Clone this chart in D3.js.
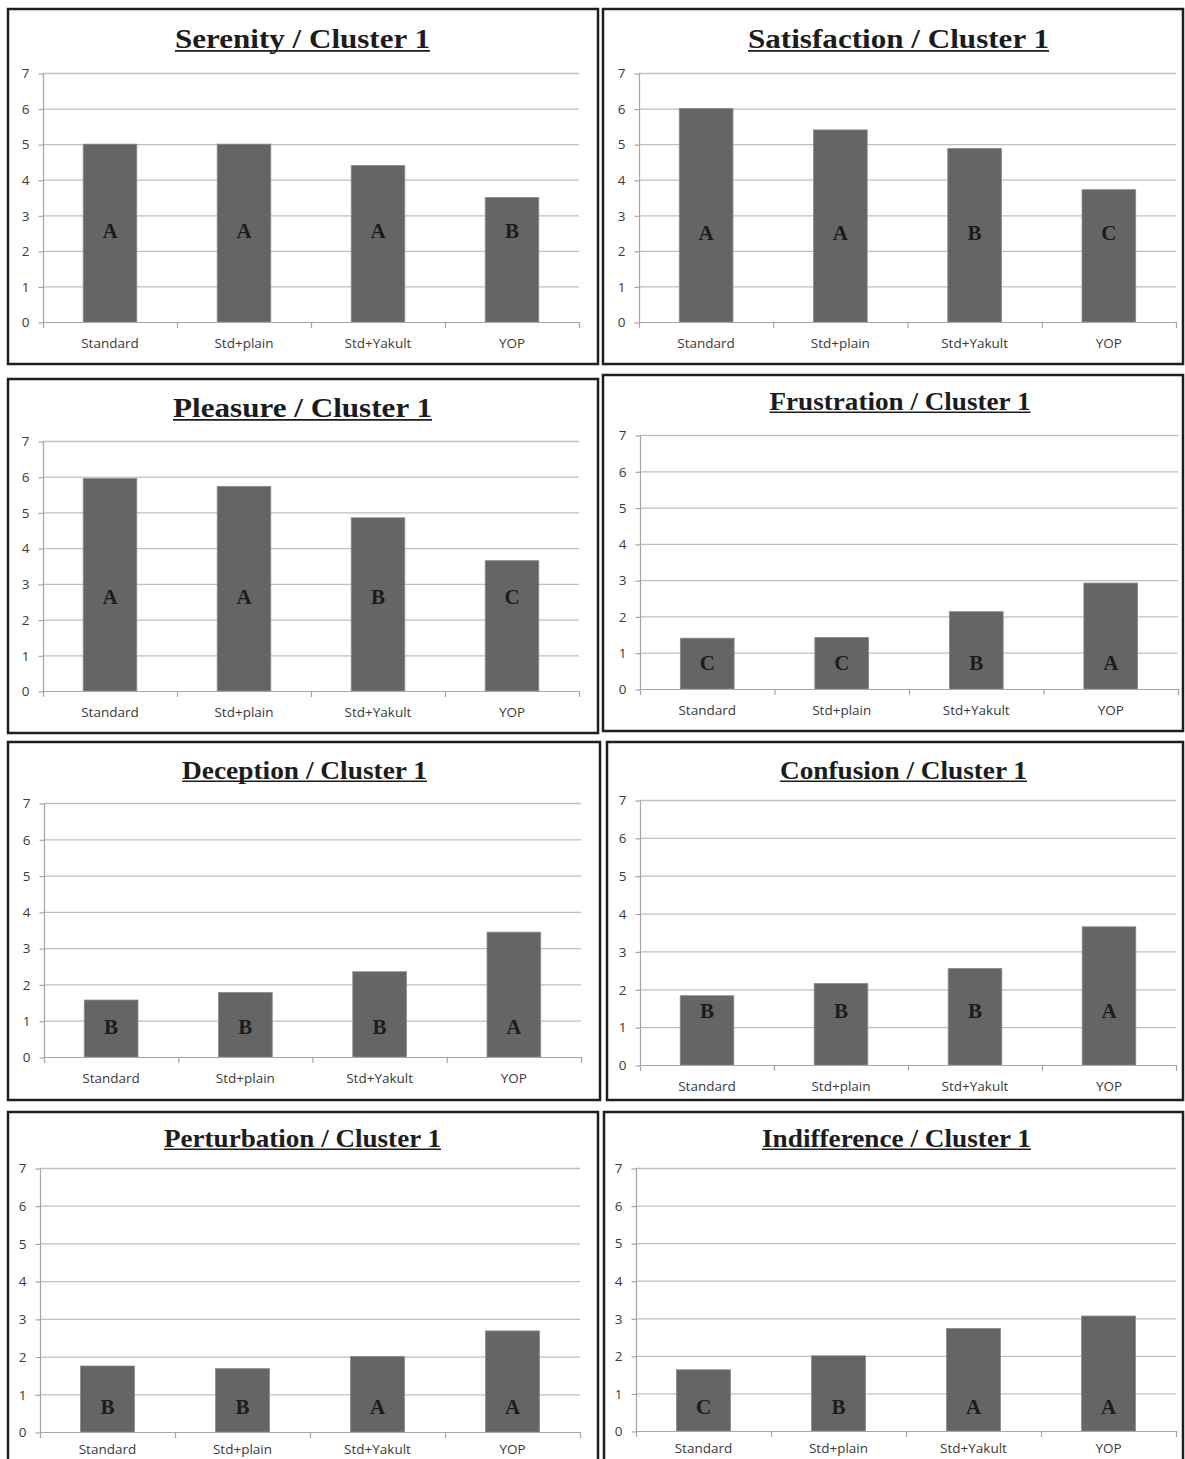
<!DOCTYPE html>
<html>
<head>
<meta charset="utf-8">
<script src="https://cdn.jsdelivr.net/npm/d3@7"></script>
<style>
  html, body { margin: 0; padding: 0; background: #ffffff; }
  svg { display: block; }
</style>
</head>
<body>
<svg id="chart" width="1185" height="1459"></svg>
<script>
// ---------------- DATA ----------------
const categories = ["Standard", "Std+plain", "Std+Yakult", "YOP"];
const yTicks = [0, 1, 2, 3, 4, 5, 6, 7];

const panelNames = ["Serenity", "Satisfaction", "Pleasure", "Frustration",
                    "Deception", "Confusion", "Perturbation", "Indifference"];
const clusterLabel = "Cluster 1";

const serenityValues      = [5.0, 5.0, 4.4, 3.5];
const satisfactionValues  = [6.0, 5.4, 4.88, 3.72];
const pleasureValues      = [5.95, 5.73, 4.85, 3.65];
const frustrationValues   = [1.4, 1.42, 2.13, 2.92];
const deceptionValues     = [1.57, 1.78, 2.35, 3.44];
const confusionValues     = [1.83, 2.15, 2.55, 3.65];
const perturbationValues  = [1.75, 1.68, 2.0, 2.68];
const indifferenceValues  = [1.63, 2.0, 2.73, 3.06];

const serenityLetters     = ["A", "A", "A", "B"];
const satisfactionLetters = ["A", "A", "B", "C"];
const pleasureLetters     = ["A", "A", "B", "C"];
const frustrationLetters  = ["C", "C", "B", "A"];
const deceptionLetters    = ["B", "B", "B", "A"];
const confusionLetters    = ["B", "B", "B", "A"];
const perturbationLetters = ["B", "B", "A", "A"];
const indifferenceLetters = ["C", "B", "A", "A"];

const seriesValues  = [serenityValues, satisfactionValues, pleasureValues, frustrationValues,
                       deceptionValues, confusionValues, perturbationValues, indifferenceValues];
const seriesLetters = [serenityLetters, satisfactionLetters, pleasureLetters, frustrationLetters,
                       deceptionLetters, confusionLetters, perturbationLetters, indifferenceLetters];

// ---------------- LAYOUT (not data) ----------------
const layout = [
  { box: [8, 9, 590, 355],     plot: [43, 579, 73, 322],     titleSize: 28, titleX: 302.5, titleW: 255, titleY: 38,   letterLevel: 2.56, labelDy: 26 },
  { box: [603, 9, 580, 355],   plot: [639, 1176, 73, 322],   titleSize: 28, titleX: 898.5, titleW: 301, titleY: 38,   letterLevel: 2.53, labelDy: 26 },
  { box: [8, 379, 590, 354],   plot: [43, 579, 441, 691],    titleSize: 28, titleX: 302.5, titleW: 259, titleY: 407,  letterLevel: 2.66, labelDy: 26 },
  { box: [603, 375, 580, 356], plot: [640, 1178, 435, 689],  titleSize: 24.5, titleX: 900,   titleW: 261, titleY: 401,  letterLevel: 0.74, labelDy: 26 },
  { box: [8, 742, 592, 358],   plot: [44, 581, 803, 1057],   titleSize: 24.5, titleX: 304.5, titleW: 245, titleY: 770,  letterLevel: 0.85, labelDy: 26 },
  { box: [607, 742, 576, 358], plot: [640, 1176, 800, 1065], titleSize: 24.5, titleX: 903.5, titleW: 247, titleY: 770,  letterLevel: 1.45, labelDy: 26 },
  { box: [8, 1112, 590, 370],  plot: [40, 580, 1168, 1432],  titleSize: 24.5, titleX: 302.5, titleW: 277, titleY: 1138, letterLevel: 0.69, labelDy: 22 },
  { box: [604, 1112, 579, 370],plot: [636, 1176, 1168, 1431],titleSize: 24.5, titleX: 896.5, titleW: 269, titleY: 1138, letterLevel: 0.66, labelDy: 22 }
];

const BAR = "#656565";
const GRID = "#bfbfbf";
const AXIS = "#a6a6a6";
const TEXT = "#3a3a3a";

const svg = d3.select("#chart");

panelNames.forEach((name, i) => {
  const L = layout[i];
  const [bx, by, bw, bh] = L.box;
  const [left, right, top, bottom] = L.plot;
  const values = seriesValues[i];
  const letters = seriesLetters[i];
  const g = svg.append("g");

  // panel frame
  g.append("rect")
    .attr("x", bx).attr("y", by).attr("width", bw).attr("height", bh)
    .attr("fill", "#ffffff").attr("stroke", "#1e1e1e").attr("stroke-width", 2.5);

  const x = d3.scaleBand().domain(categories).range([left, right])
    .paddingInner(0.6).paddingOuter(0.3);
  const xOuter = d3.scaleBand().domain(categories).range([left, right]).padding(0);
  const y = d3.scaleLinear().domain([0, 7]).range([bottom, top]);

  // gridlines
  g.append("g").selectAll("line").data(yTicks.filter(t => t > 0)).join("line")
    .attr("x1", left).attr("x2", right)
    .attr("y1", d => y(d) + 0.5).attr("y2", d => y(d) + 0.5)
    .attr("stroke", GRID).attr("stroke-width", 1.3);

  // y axis
  const yAxis = d3.axisLeft(y).tickValues(yTicks).tickSize(5).tickPadding(9).tickFormat(d3.format("d"));
  const ya = g.append("g").attr("transform", `translate(${left + 0.5},0.5)`).call(yAxis);
  ya.select(".domain").attr("stroke", AXIS).attr("stroke-width", 1.2).attr("d", `M0,${top}V${bottom}`);
  ya.selectAll(".tick line").attr("stroke", AXIS).attr("stroke-width", 1.2);
  ya.selectAll(".tick text").attr("fill", TEXT)
    .style("font-family", "'Open Sans', 'Noto Sans', sans-serif").style("font-size", "13.5px");

  // bars
  g.append("g").selectAll("rect").data(values).join("rect")
    .attr("x", (d, j) => x(categories[j]))
    .attr("y", d => y(d))
    .attr("width", x.bandwidth())
    .attr("height", d => y(0) - y(d))
    .attr("fill", BAR)
    .attr("stroke", "#8a8a8a").attr("stroke-width", 0.8);

  // x axis
  const ticksAt = categories.map(c => xOuter(c)).concat([right]);
  const xg = g.append("g");
  xg.append("line").attr("x1", left).attr("x2", right)
    .attr("y1", y(0) + 0.5).attr("y2", y(0) + 0.5)
    .attr("stroke", AXIS).attr("stroke-width", 1.2);
  xg.selectAll("line.tk").data(ticksAt).join("line").attr("class", "tk")
    .attr("x1", d => d + 0.5).attr("x2", d => d + 0.5)
    .attr("y1", y(0)).attr("y2", y(0) + 6)
    .attr("stroke", AXIS).attr("stroke-width", 1.2);
  xg.selectAll("text").data(categories).join("text")
    .attr("x", d => xOuter(d) + xOuter.bandwidth() / 2)
    .attr("y", y(0) + L.labelDy)
    .attr("text-anchor", "middle")
    .attr("fill", TEXT)
    .style("font-family", "'Open Sans', 'Noto Sans', sans-serif").style("font-size", "13.5px")
    .text(d => d);

  // group letters
  g.append("g").selectAll("text").data(letters).join("text")
    .attr("x", (d, j) => x(categories[j]) + x.bandwidth() / 2)
    .attr("y", y(L.letterLevel))
    .attr("dy", "0.36em")
    .attr("text-anchor", "middle")
    .attr("fill", "#1c1c1c")
    .style("font-family", "'Liberation Serif', 'DejaVu Serif', serif")
    .style("font-weight", "bold").style("font-size", "21px")
    .text(d => d);

  // title + underline
  const cx = L.titleX;
  g.append("text")
    .attr("x", cx).attr("y", L.titleY).attr("dy", "0.35em")
    .attr("text-anchor", "middle").attr("fill", "#1c1c1c")
    .attr("textLength", L.titleW).attr("lengthAdjust", "spacingAndGlyphs")
    .style("font-family", "'Liberation Serif', 'DejaVu Serif', serif")
    .style("font-weight", "bold").style("font-size", L.titleSize + "px")
    .text(`${name} / ${clusterLabel}`);
  g.append("line")
    .attr("x1", cx - L.titleW / 2).attr("x2", cx + L.titleW / 2)
    .attr("y1", L.titleY + L.titleSize * 0.46).attr("y2", L.titleY + L.titleSize * 0.46)
    .attr("stroke", "#1c1c1c").attr("stroke-width", 1.6);
});
</script>
</body>
</html>
